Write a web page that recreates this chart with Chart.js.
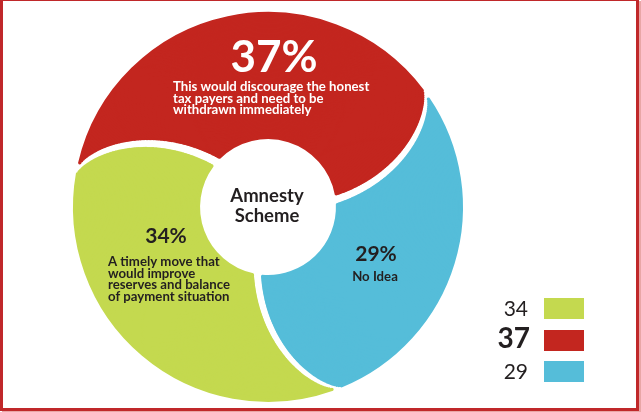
<!DOCTYPE html>
<html>
<head>
<meta charset="utf-8">
<title>Amnesty Scheme</title>
<script src="https://cdn.jsdelivr.net/npm/chart.js@4.4.1/dist/chart.umd.min.js"></script>
<style>
  html, body { margin: 0; padding: 0; background: #fff; }
  #wrap { position: relative; width: 641px; height: 412px; overflow: hidden; }
  #wrap canvas { position: absolute; left: 0; top: 0; }
  #frame {
    position: absolute; left: 0; top: 0;
    width: 633px; height: 407px;
    border-style: solid; border-color: #c0282a;
    border-width: 1px 3px 3px 3px;
    box-shadow: 2px 1px 0 #e9a6a6;
    pointer-events: none;
  }
</style>
</head>
<body>
<div id="wrap">
  <canvas id="amnestyChart" width="641" height="412"></canvas>
  <div id="frame"></div>
</div>
<script>
// survey answers, legend order
const categories = [
  'A timely move that would improve reserves and balance of payment situation',
  'This would discourage the honest tax payers and need to be withdrawn immediately',
  'No Idea'
];
const values = [34, 37, 29];
const colors = ['#c4d94f', '#c3261f', '#55bdd9'];

// how each answer is broken over lines inside its slice
const noteLines = [
  ['A timely move that', 'would improve', 'reserves and balance', 'of payment situation'],
  ['This would discourage the honest', 'tax payers and need to be', 'withdrawn immediately'],
  ['No Idea']
];
const centerTitle = ['Amnesty', 'Scheme'];

const FONT = 'Lato, "Open Sans", sans-serif';
const DARK = '#231f20';

// where the percentage and the note sit for each slice
const labelLayout = [
  { x: 166, y: 243, size: 21, color: DARK, noteX: 108, noteY: 266, noteAlign: 'left' },
  { x: 274, y: 72, size: 44, color: '#fff', noteX: 173, noteY: 91, noteAlign: 'left' },
  { x: 376, y: 260.5, size: 21, color: DARK, noteX: 375, noteY: 280.5, noteAlign: 'center' }
];

// the ring is cut into thin bands, each turned a little further so the
// slice edges curl towards the middle
const BANDS = 100;
const TWIST = 30;
const BASE_ROTATION = 158.5;

const bands = [];
for (let i = 0; i < BANDS; i++) {
  const t = (i + 0.5) / BANDS;
  bands.push({
    data: values,
    backgroundColor: colors,
    borderColor: colors,
    borderWidth: 2,
    spacing: 9,
    rotation: BASE_ROTATION + TWIST * Math.pow(t, 0.75)
  });
}

const sliceLabels = {
  id: 'sliceLabels',
  afterDraw(chart) {
    const ctx = chart.ctx;
    ctx.save();
    ctx.textBaseline = 'alphabetic';

    // percentages and notes
    values.forEach((v, i) => {
      const l = labelLayout[i];
      ctx.fillStyle = l.color;
      ctx.textAlign = 'center';
      ctx.font = `bold ${l.size}px ${FONT}`;
      ctx.fillText(v + '%', l.x, l.y);
      ctx.font = `bold 13.2px ${FONT}`;
      ctx.textAlign = l.noteAlign;
      noteLines[i].forEach((line, k) => {
        ctx.fillText(line, l.noteX, l.noteY + k * 11.6);
      });
    });

    // title in the hole
    ctx.fillStyle = DARK;
    ctx.textAlign = 'center';
    ctx.font = `bold 18.5px ${FONT}`;
    centerTitle.forEach((line, k) => ctx.fillText(line, 267, 201.5 + k * 20));

    // legend: value then swatch, the biggest value in bold
    const top = Math.max(...values);
    const rowTops = [298, 330, 361];
    values.forEach((v, i) => {
      const y = rowTops[i];
      ctx.fillStyle = colors[i];
      ctx.fillRect(544, y, 40, 21);
      ctx.fillStyle = DARK;
      ctx.textAlign = 'right';
      if (v === top) {
        ctx.font = `bold 28px ${FONT}`;
        ctx.fillText(String(v), 530, y + 17.7);
      } else {
        ctx.font = `21px ${FONT}`;
        ctx.fillText(String(v), 528, y + 18);
      }
    });
    ctx.restore();
  }
};

new Chart(document.getElementById('amnestyChart'), {
  type: 'doughnut',
  data: {
    labels: categories,
    datasets: bands
  },
  options: {
    responsive: false,
    animation: false,
    cutout: '34%',
    layout: { padding: { left: 73, right: 178, top: 12, bottom: 10 } },
    plugins: {
      legend: { display: false },
      tooltip: { enabled: false }
    },
    events: []
  },
  plugins: [sliceLabels]
});
</script>
</body>
</html>
